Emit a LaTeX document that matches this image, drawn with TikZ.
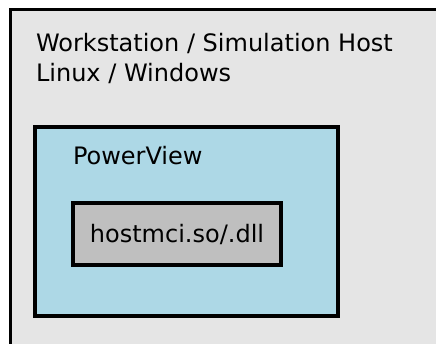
\documentclass[tikz,border=0pt]{standalone}
\usepackage{fontspec}
\setmainfont{DejaVu Sans}
\definecolor{hostgray}{HTML}{E5E5E5}
\definecolor{pvblue}{HTML}{ADD8E6}
\definecolor{dllgray}{HTML}{BFBFBF}
\begin{document}
\begin{tikzpicture}[x=1pt,y=1pt,
  box/.style={draw=black, rectangle, inner sep=0pt, outer sep=0pt},
  lbl/.style={inner sep=0pt, outer sep=0pt, font=\fontsize{24}{30}\selectfont, text=black}]
\useasboundingbox (0,0) rectangle (436,343);
\node[box, line width=3pt, fill=hostgray, minimum width=449.5pt, minimum height=353.5pt] (host) at (235.25,156.75) {};
\node[box, line width=4pt, fill=pvblue, minimum width=302.4pt, minimum height=188.5pt] (pv) at (186.5,121.75) {};
\node[box, line width=4pt, fill=dllgray, minimum width=208pt, minimum height=62pt] (dll) at (177,109.3) {};
\node[lbl, anchor=base west] (hostl1) at (36,291) {Workstation / Simulation Host};
\node[lbl, anchor=base west] (hostl2) at (36,261) {Linux / Windows};
\node[lbl, anchor=base west] (pvl) at (73,178) {PowerView};
\node[lbl, anchor=base] (dlll) at (177,101) {hostmci.so/.dll};
\end{tikzpicture}
\end{document}
